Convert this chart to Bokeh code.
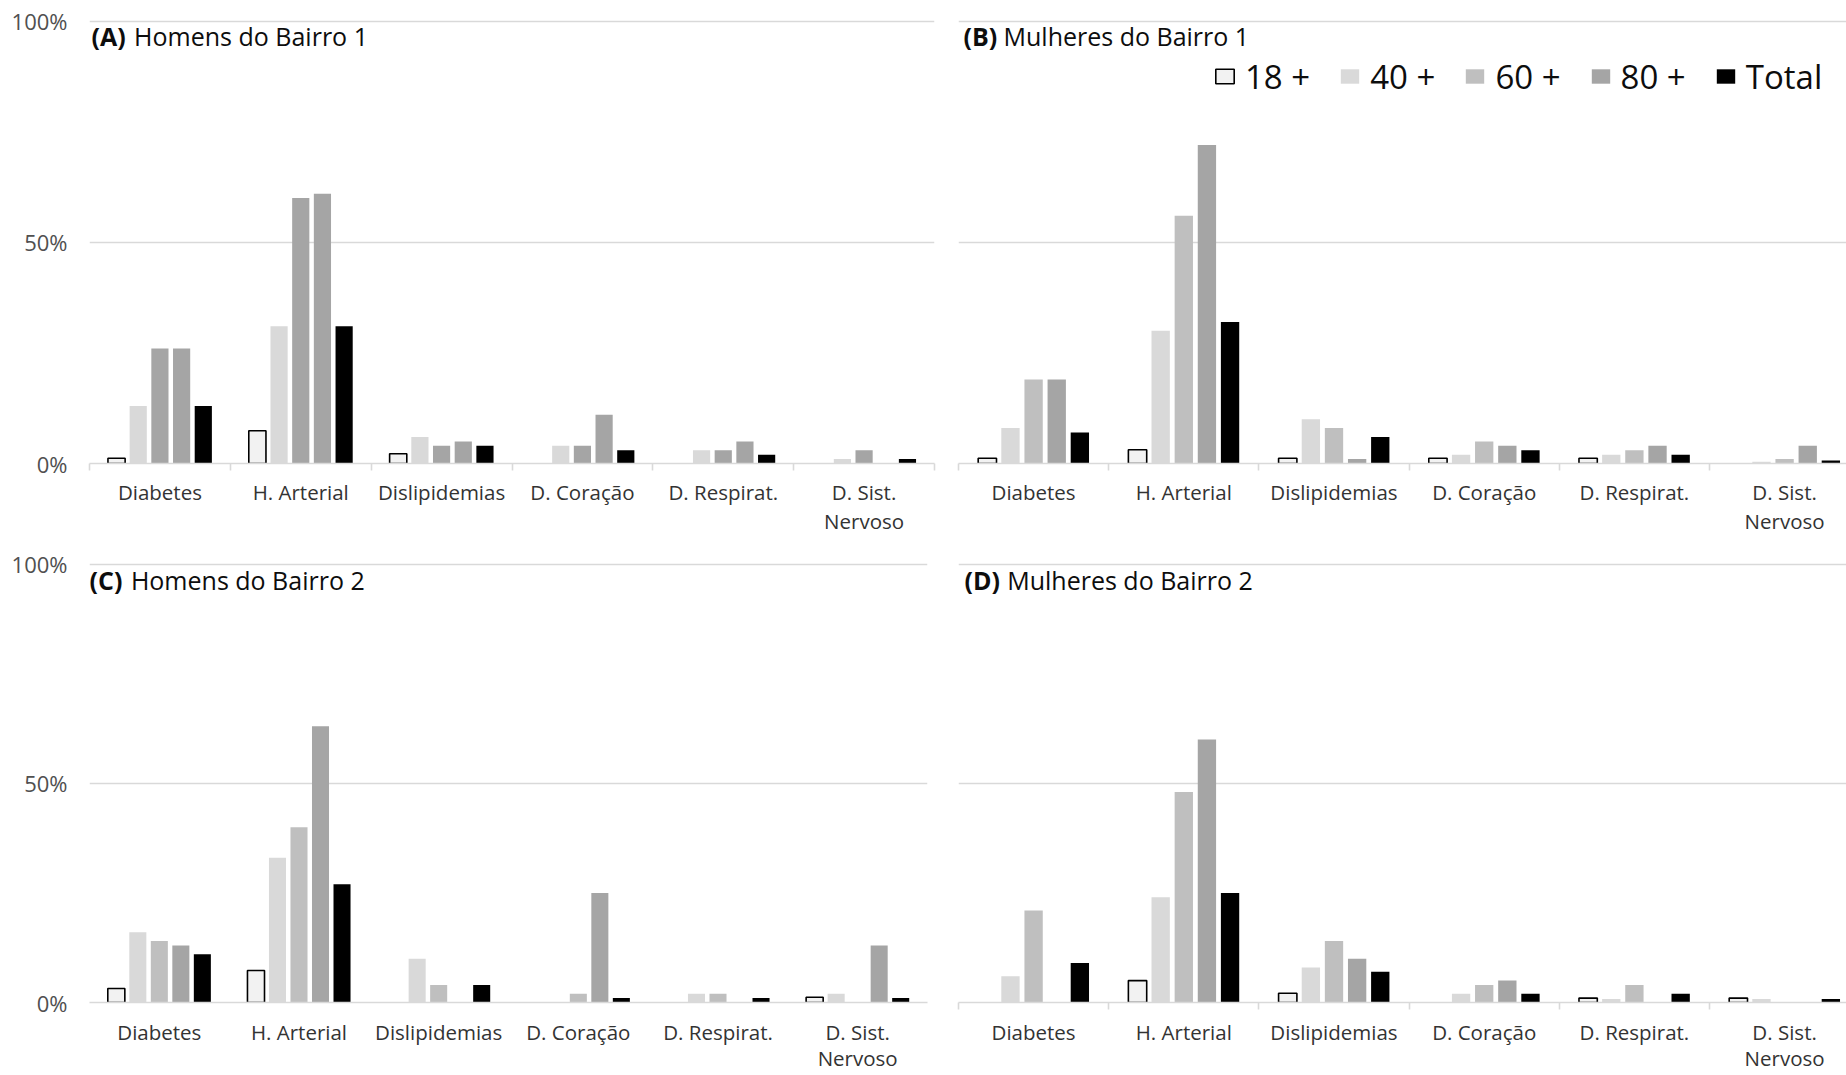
from bokeh.plotting import figure
from bokeh.models import Range1d, FixedTicker, Legend, LegendItem, Label, ColumnDataSource
from bokeh.layouts import column, row
from bokeh.embed import file_html
from bokeh.resources import INLINE

categories = ["Diabetes", "H. Arterial", "Dislipidemias", "D. Coração", "D. Respirat.", "D. Sist.\nNervoso"]
age_groups = ["18 +", "40 +", "60 +", "80 +", "Total"]
bar_colors = ["#F2F2F2", "#D9D9D9", "#BFBFBF", "#A5A5A5", "#000000"]
bar_colors_a = ["#F2F2F2", "#D9D9D9", "#A5A5A5", "#A5A5A5", "#000000"]
y_ticks = [0, 50, 100]
y_tick_labels = ["0%", "50%", "100%"]

# rows: 18 +, 40 +, 60 +, 80 +, Total ; columns: categories
homens_bairro1 = [
    [1.2, 7.4, 2.2, 0, 0, 0],
    [13, 31, 6, 4, 3, 1],
    [26, 60, 4, 4, 3, 3],
    [26, 61, 5, 11, 5, 0],
    [13, 31, 4, 3, 2, 1],
]
mulheres_bairro1 = [
    [1.2, 3.1, 1.2, 1.2, 1.2, 0],
    [8, 30, 10, 2, 2, 0.4],
    [19, 56, 8, 5, 3, 1],
    [19, 72, 1, 4, 4, 4],
    [7, 32, 6, 3, 2, 0.7],
]
homens_bairro2 = [
    [3.2, 7.3, 0, 0, 0, 1.2],
    [16, 33, 10, 0, 2, 2],
    [14, 40, 4, 2, 2, 0],
    [13, 63, 0, 25, 0, 13],
    [11, 27, 4, 1, 1, 1],
]
mulheres_bairro2 = [
    [0, 5, 2.1, 0, 1, 1],
    [6, 24, 8, 2, 0.8, 0.8],
    [21, 48, 14, 4, 4, 0],
    [0, 60, 10, 5, 0, 0],
    [9, 25, 7, 2, 2, 0.8],
]

FONT = "Open Sans"
AXIS_COL = "#333333"
TICK_COL = "#505050"
GRID_COL = "#D9D9D9"
Y_TOP = 101.5


def make_panel(data, colors, width, height, bl, br, bt, bb, x_end, show_y,
               show_minor, label_standoff, line_height, bold, rest, tx, ty, rest_dx):
    p = figure(width=width, height=height, x_range=Range1d(-0.5, x_end),
               y_range=Range1d(0, Y_TOP), output_backend="svg", toolbar_location=None,
               min_border_left=bl, min_border_right=br, min_border_top=bt,
               min_border_bottom=bb)
    p.outline_line_color = None
    p.xgrid.visible = False
    p.ygrid.ticker = FixedTicker(ticks=y_ticks)
    p.ygrid.grid_line_color = GRID_COL
    p.ygrid.grid_line_width = 1.6

    renderers = []
    for k, vals in enumerate(data):
        xs = [i + (k - 2) * 0.154 for i, v in enumerate(vals) if v > 0]
        tops = [v for v in vals if v > 0]
        src = ColumnDataSource(dict(x=xs, top=tops))
        if k == 0:
            r = p.vbar(x="x", top="top", bottom=0, width=0.122, source=src,
                       fill_color=colors[k], line_color="#000000", line_width=1.6)
        else:
            r = p.vbar(x="x", top="top", bottom=0, width=0.122, source=src,
                       fill_color=colors[k], line_color=None)
        renderers.append(r)

    xa = p.xaxis[0]
    xa.ticker = FixedTicker(ticks=list(range(len(categories))),
                            minor_ticks=[i - 0.5 for i in range(len(categories) + 1)] if show_minor else [])
    xa.major_label_overrides = {i: c for i, c in enumerate(categories)}
    xa.axis_line_color = GRID_COL
    xa.axis_line_width = 1.6
    xa.major_tick_line_color = None
    xa.major_tick_in = 0
    xa.major_tick_out = 0
    if show_minor:
        xa.minor_tick_line_color = GRID_COL
        xa.minor_tick_line_width = 1.6
        xa.minor_tick_in = 0
        xa.minor_tick_out = 7
    else:
        xa.minor_tick_line_color = None
        xa.minor_tick_out = 0
    xa.major_label_standoff = label_standoff
    xa.major_label_text_font = FONT
    xa.major_label_text_font_size = "20.5px"
    xa.major_label_text_color = AXIS_COL
    xa.major_label_text_line_height = line_height

    ya = p.yaxis[0]
    if show_y:
        ya.ticker = FixedTicker(ticks=y_ticks)
        ya.major_label_overrides = {t: l for t, l in zip(y_ticks, y_tick_labels)}
        ya.axis_line_color = None
        ya.major_tick_line_color = None
        ya.minor_tick_line_color = None
        ya.major_tick_in = 0
        ya.major_tick_out = 0
        ya.major_label_standoff = 22
        ya.major_label_text_font = FONT
        ya.major_label_text_font_size = "22px"
        ya.major_label_text_color = TICK_COL
    else:
        ya.visible = False

    p.add_layout(Label(x=-0.5, y=100, x_offset=tx, y_offset=-ty, text=bold,
                       text_font=FONT, text_font_style="bold", text_font_size="25px",
                       text_color="#0d0d0d", text_baseline="alphabetic"))
    p.add_layout(Label(x=-0.5, y=100, x_offset=tx + rest_dx, y_offset=-ty, text=rest,
                       text_font=FONT, text_font_size="25px",
                       text_color="#0d0d0d", text_baseline="alphabetic"))
    return p, renderers


X_END_RIGHT = -0.5 + 888 / 150.2

pa, _ = make_panel(homens_bairro1, bar_colors_a, 948, 548, 89, 14, 14, 85, 5.5, True, True, 7, 1.05,
                   "(A)", "Homens do Bairro 1", 2, 14.6, 42.6)
pb, rb = make_panel(mulheres_bairro1, bar_colors, 898, 548, 10, 0, 14, 85, X_END_RIGHT,
                    False, True, 7, 1.05, "(B)", "Mulheres do Bairro 1", 5, 15.1, 40)
pc, _ = make_panel(homens_bairro2, bar_colors, 948, 527, 89, 21, 9, 70, 5.5, True, False, 15, 0.95,
                   "(C)", "Homens do Bairro 2", 0, 16, 41.4)
pd, _ = make_panel(mulheres_bairro2, bar_colors, 898, 527, 10, 0, 9, 70, X_END_RIGHT,
                   False, True, 8, 0.95, "(D)", "Mulheres do Bairro 2", 6, 16, 42.7)

legend = Legend(items=[LegendItem(label=g, renderers=[r]) for g, r in zip(age_groups, rb)],
                orientation="horizontal", location=(255, 364.5), padding=0, margin=0,
                spacing=28, label_standoff=9, glyph_width=23, glyph_height=18,
                border_line_color=None, background_fill_alpha=0,
                label_text_font=FONT, label_text_font_size="33px", label_text_color="#0d0d0d")
pb.add_layout(legend, "center")

layout = column(row(pa, pb), row(pc, pd))
open("out.html", "w").write(file_html(layout, INLINE))
